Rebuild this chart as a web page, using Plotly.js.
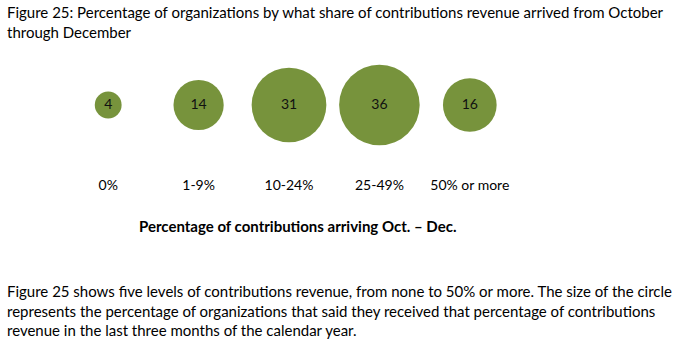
<!DOCTYPE html>
<html>
<head>
<meta charset="utf-8">
<script src="https://cdn.plot.ly/plotly-3.0.1.min.js"></script>
<style>html,body{margin:0;padding:0;background:#fff;}#chart{width:685px;height:345px;}</style>
</head>
<body>
<div id="chart"></div>
<script>
const categories = ["0%", "1-9%", "10-24%", "25-49%", "50% or more"];
const percentOrgs = [4, 14, 31, 36, 16];
const baseline = [0, 0, 0, 0, 0];
const titleText = "Figure 25: Percentage of organizations by what share of contributions revenue arrived from October<br>through December";
const axisTitle = "<b>Percentage of contributions arriving Oct. – Dec.</b>";
const noteText = "Figure 25 shows five levels of contributions revenue, from none to 50% or more. The size of the circle<br>represents the percentage of organizations that said they received that percentage of contributions<br>revenue in the last three months of the calendar year.";

const FONT = "Lato, 'Open Sans', sans-serif";
const GREEN = "#77933C";

const trace = {
  type: "scatter",
  mode: "markers+text",
  x: categories,
  y: baseline,
  text: percentOrgs.map(String),
  textposition: "middle center",
  textfont: {family: FONT, size: 14, color: "#111"},
  marker: {
    size: percentOrgs,
    sizemode: "area",
    sizeref: 0.0111,
    color: GREEN,
    opacity: 1,
    line: {width: 0}
  },
  hoverinfo: "skip",
  cliponaxis: false
};

const layout = {
  width: 685, height: 345,
  paper_bgcolor: "#fff", plot_bgcolor: "#fff",
  margin: {l: 63, r: 170, t: 33, b: 168},
  showlegend: false,
  font: {family: FONT, color: "#000"},
  xaxis: {
    type: "category",
    range: [-0.5, 4.5],
    showgrid: false, zeroline: false, showline: false,
    ticks: "", ticklabelstandoff: -2,
    tickfont: {family: FONT, size: 14, color: "#000"}
  },
  yaxis: {
    range: [-1, 1],
    visible: false, fixedrange: true
  },
  annotations: [{
    text: titleText,
    xref: "paper", yref: "paper", x: -0.1294, xanchor: "left",
    y: 1.222, yanchor: "top",
    showarrow: false, align: "left",
    font: {family: FONT, size: 15, color: "#000"}
  }, {
    text: axisTitle,
    xref: "paper", yref: "paper", x: 0.518, xanchor: "center",
    y: -0.340, yanchor: "middle",
    showarrow: false,
    font: {family: FONT, size: 15, color: "#000"}
  }, {
    text: noteText,
    xref: "paper", yref: "paper", x: -0.1294, xanchor: "left",
    y: -0.715, yanchor: "top",
    showarrow: false, align: "left",
    font: {family: FONT, size: 15, color: "#000"}
  }]
};

Plotly.newPlot("chart", [trace], layout, {displayModeBar: false, staticPlot: true});
</script>
</body>
</html>
